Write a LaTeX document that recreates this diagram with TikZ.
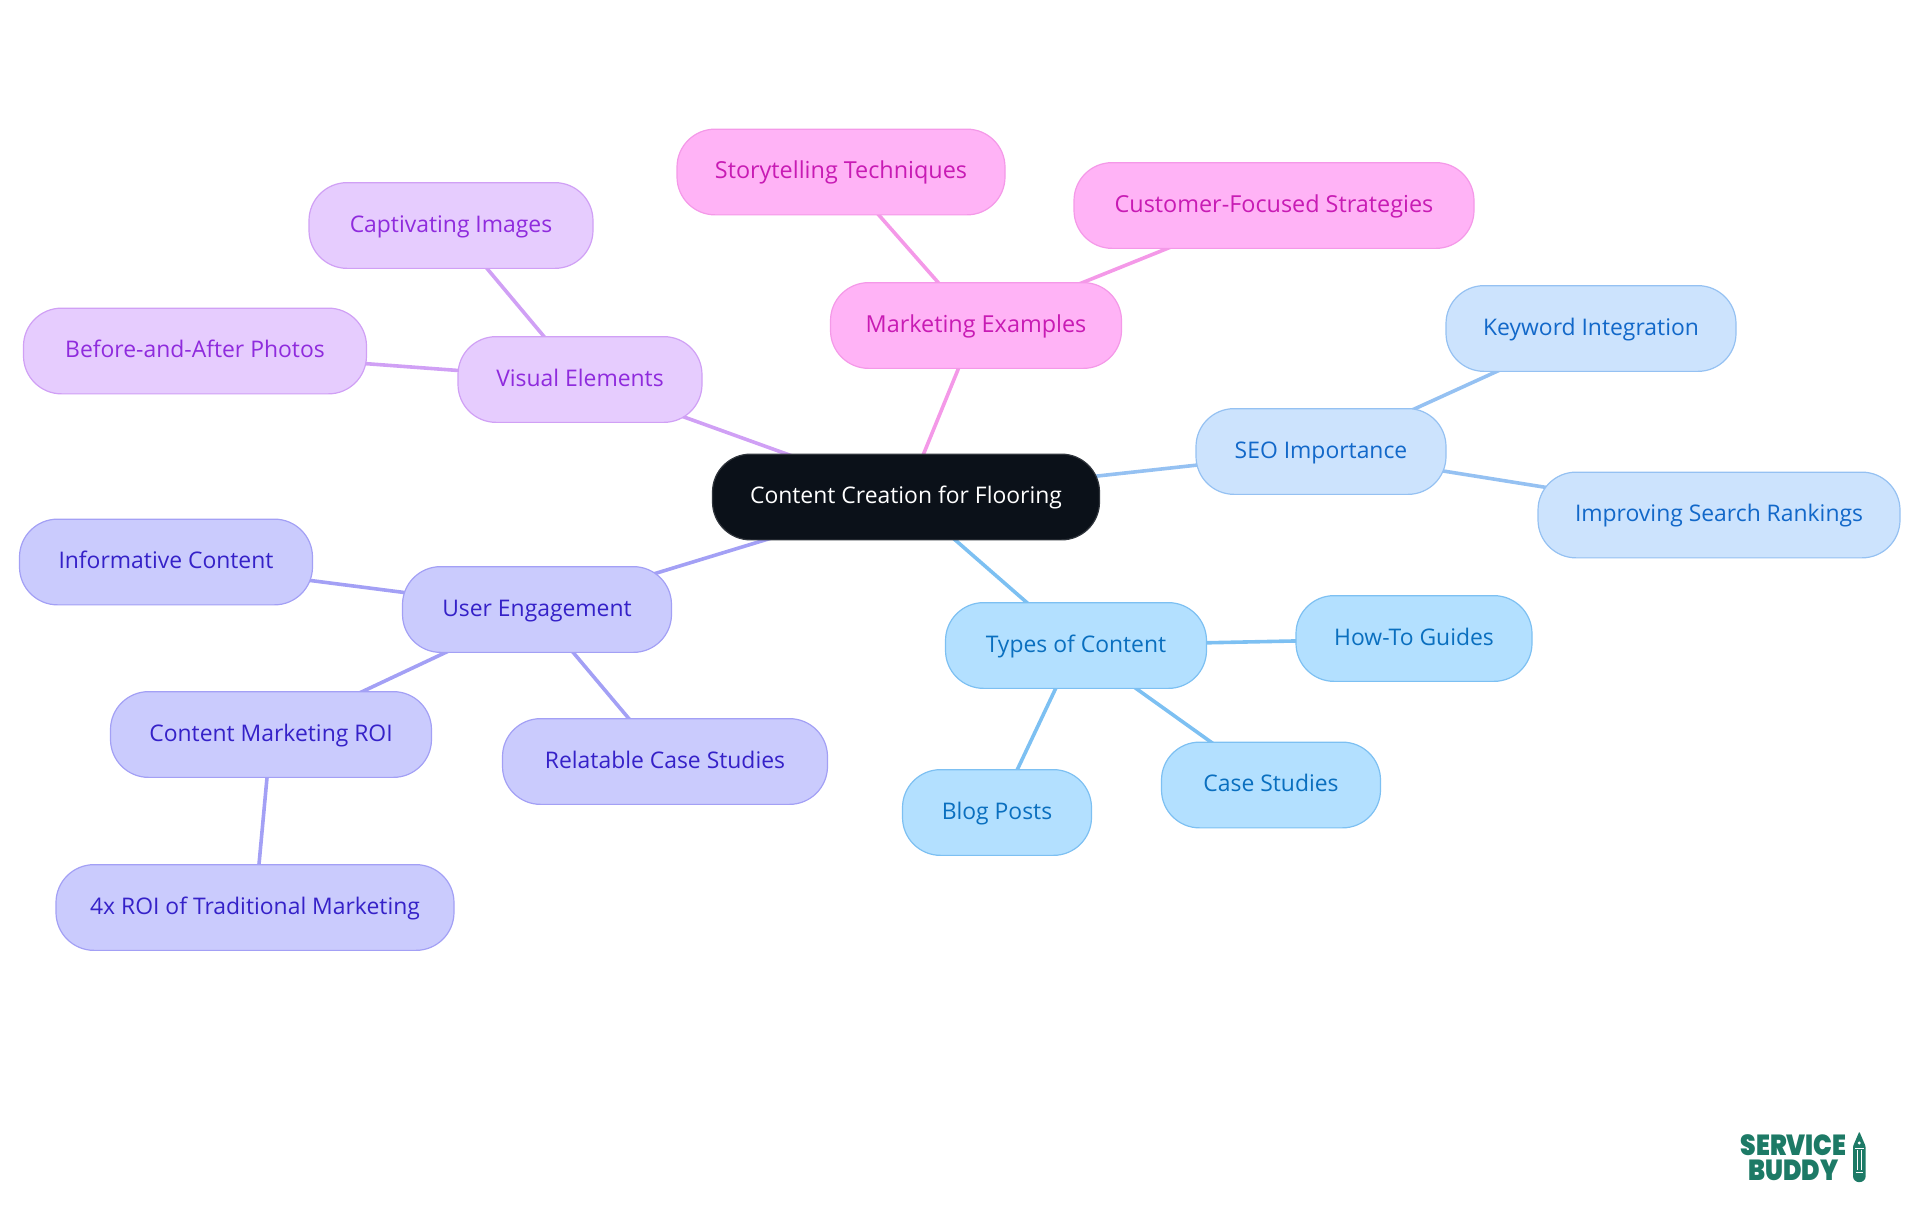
\documentclass[tikz,border=0pt]{standalone}
\usepackage{fontspec}
\setmainfont{Open Sans}
\newfontfamily\logofont{Poppins Black}
\usetikzlibrary{backgrounds}

\definecolor{rootfill}{HTML}{0B1119}
\definecolor{pinkfill}{HTML}{FFB3F6}
\definecolor{pinkline}{HTML}{F499E8}
\definecolor{pinktext}{HTML}{C81BB4}
\definecolor{purpfill}{HTML}{E6CCFE}
\definecolor{purpline}{HTML}{D0A0F5}
\definecolor{purptext}{HTML}{8F2BDD}
\definecolor{indigofill}{HTML}{CACBFD}
\definecolor{indigoline}{HTML}{A3A0F5}
\definecolor{indigotext}{HTML}{3521C8}
\definecolor{skyfill}{HTML}{B3E0FF}
\definecolor{skyline}{HTML}{7DC0F2}
\definecolor{skytext}{HTML}{0A6FBF}
\definecolor{bluefill}{HTML}{CCE3FD}
\definecolor{blueline}{HTML}{95C1F2}
\definecolor{bluetext}{HTML}{1268C9}
\definecolor{logogreen}{HTML}{1D7A66}

\tikzset{
  mapnode/.style={rounded corners=38pt,line width=1.2pt,minimum height=85.7pt,inner sep=0pt,text height=18.4pt,text depth=5pt,font=\fontsize{22.9}{28}\selectfont},
  rootnode/.style={mapnode,fill=rootfill,draw=rootfill!85!white,text=white},
  pinknode/.style={mapnode,fill=pinkfill,draw=pinkline,text=pinktext,font=\fontsize{23.4}{28}\selectfont},
  purpnode/.style={mapnode,fill=purpfill,draw=purpline,text=purptext},
  indigonode/.style={mapnode,fill=indigofill,draw=indigoline,text=indigotext},
  skynode/.style={mapnode,fill=skyfill,draw=skyline,text=skytext},
  bluenode/.style={mapnode,fill=bluefill,draw=blueline,text=bluetext},
  link/.style={line width=3.6pt},
  logotext/.style={text=logogreen,font=\logofont\fontsize{29}{29}\selectfont,inner sep=0pt,xscale=.86}
}

\begin{document}
\begin{tikzpicture}[x=1pt,y=-1pt]
  \useasboundingbox (0,0) rectangle (1920,1215);

  % centre
  \node[rootnode,minimum width=387pt] (root) at (906,497) {Content Creation for Flooring};

  % marketing branch
  \node[pinknode,minimum width=291pt] (market) at (976,325.5) {Marketing Examples};
  \node[pinknode,minimum width=328pt] (story) at (841,172) {Storytelling Techniques};
  \node[pinknode,minimum width=400pt] (customer) at (1274,205.5) {Customer-Focused Strategies};

  % visual branch
  \node[purpnode,minimum width=244pt] (visual) at (580,379.5) {Visual Elements};
  \node[purpnode,minimum width=284pt] (images) at (451,225.5) {Captivating Images};
  \node[purpnode,minimum width=343pt] (photos) at (195,351) {Before-and-After Photos};

  % seo branch
  \node[bluenode,minimum width=250pt] (seo) at (1321,451.5) {SEO Importance};
  \node[bluenode,minimum width=290pt] (keyword) at (1591,328.5) {Keyword Integration};
  \node[bluenode,minimum width=362pt] (rankings) at (1719,515) {Improving Search Rankings};

  % types branch
  \node[skynode,minimum width=261pt] (types) at (1076,645.5) {Types of Content};
  \node[skynode,minimum width=236pt] (howto) at (1414,638.5) {How-To Guides};
  \node[skynode,minimum width=219pt] (cases) at (1271,785) {Case Studies};
  \node[skynode,minimum width=189pt] (blog) at (997,812.5) {Blog Posts};

  % engagement branch
  \node[indigonode,minimum width=269pt] (engage) at (537,609.5) {User Engagement};
  \node[indigonode,minimum width=293pt] (inform) at (166,562) {Informative Content};
  \node[indigonode,minimum width=321pt] (roi) at (271,734.5) {Content Marketing ROI};
  \node[indigonode,minimum width=325pt] (relate) at (665,761.5) {Relatable Case Studies};
  \node[indigonode,minimum width=398pt] (four) at (255,907.5) {4x ROI of Traditional Marketing};

  % connectors sit behind the boxes
  \begin{scope}[on background layer]
    \draw[link,pinkline] (root.center) -- (market.center);
    \draw[link,pinkline] (market.center) -- (story.center);
    \draw[link,pinkline] (market.center) -- (customer.center);
    \draw[link,purpline] (root.center) -- (visual.center);
    \draw[link,purpline] (visual.center) -- (images.center);
    \draw[link,purpline] (visual.center) -- (photos.center);
    \draw[link,blueline] (root.center) -- (seo.center);
    \draw[link,blueline] (seo.center) -- (keyword.center);
    \draw[link,blueline] (seo.center) -- (rankings.center);
    \draw[link,skyline] (root.center) -- (types.center);
    \draw[link,skyline] (types.center) -- (howto.center);
    \draw[link,skyline] (types.center) -- (cases.center);
    \draw[link,skyline] (types.center) -- (blog.center);
    \draw[link,indigoline] (root.center) -- (engage.center);
    \draw[link,indigoline] (engage.center) -- (inform.center);
    \draw[link,indigoline] (engage.center) -- (roi.center);
    \draw[link,indigoline] (engage.center) -- (relate.center);
    \draw[link,indigoline] (roi.center) -- (four.center);
  \end{scope}

  % logo
  \node[logotext] (service) at (1793.5,1145.5) {SERVICE};
  \node[logotext] (buddy) at (1793.5,1170) {BUDDY};
  \fill[logogreen,rounded corners=1pt] (1859.3,1131.5) -- (1865.5,1146) -- (1865.5,1176) arc (0:180:6.2) -- (1853.1,1146) -- cycle;
  \draw[white,line width=1pt] (1854.5,1148) -- (1864,1148) (1857,1150) -- (1857,1170) (1861.5,1150) -- (1861.5,1170) (1855.5,1172) -- (1863,1172);
  \fill[white] (1859.3,1143) circle (1.6);
\end{tikzpicture}
\end{document}
